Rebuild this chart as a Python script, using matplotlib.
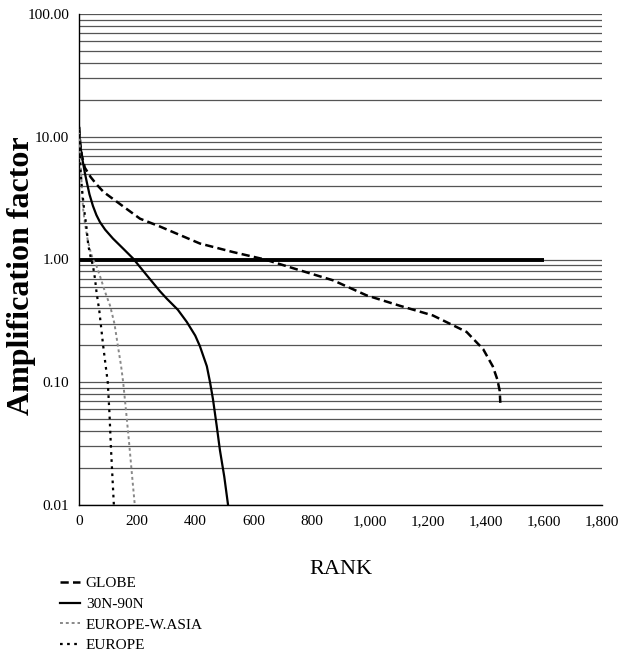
import matplotlib
matplotlib.use("Agg")
import matplotlib.pyplot as plt
from matplotlib.ticker import FixedLocator, FuncFormatter, NullLocator

plt.rcParams['font.family'] = ['Liberation Serif', 'DejaVu Serif']

# ---- data ----
globe_rank = [0, 5, 10, 20, 40, 60, 85, 150, 210, 280, 416, 530, 640, 760, 875, 990, 1104, 1218, 1276, 1334, 1391, 1424, 1440, 1448, 1450]
globe_val = [12, 8.5, 7, 5.6, 4.7, 4.1, 3.54, 2.73, 2.15, 1.85, 1.35, 1.15, 1.0, 0.817, 0.676, 0.51, 0.42, 0.35, 0.30, 0.257, 0.186, 0.135, 0.105, 0.085, 0.068]

n30_rank = [0, 3, 10, 20, 27, 36, 48, 60, 72, 90, 117, 150, 186, 234, 279, 302, 340, 371, 400, 416, 440, 451, 461, 474, 485, 500, 513]
n30_val = [12, 9, 6.9, 5.1, 4.25, 3.4, 2.73, 2.3, 2.02, 1.75, 1.48, 1.24, 1.02, 0.74, 0.55, 0.48, 0.39, 0.31, 0.24, 0.197, 0.135, 0.10, 0.073, 0.044, 0.028, 0.017, 0.01]

ewa_rank = [0, 3, 6, 10, 14, 20, 29, 38, 48, 60, 75, 89, 107, 122, 135, 145, 152, 162, 172, 182, 192]
ewa_val = [12, 8, 5.7, 3.8, 2.6, 2.0, 1.48, 1.2, 1.0, 0.89, 0.7, 0.55, 0.42, 0.3, 0.19, 0.135, 0.1, 0.058, 0.033, 0.018, 0.01]

eur_rank = [0, 2, 5, 10, 18, 25, 32, 40, 48, 55, 60, 70, 83, 92, 99, 105, 110, 115, 120]
eur_val = [12, 8, 5.5, 3.8, 2.5, 1.9, 1.3, 1.05, 0.89, 0.7, 0.55, 0.38, 0.2, 0.135, 0.1, 0.055, 0.029, 0.017, 0.01]

ref_rank = [0, 1600]
ref_val = [1.0, 1.0]

xticks = [0, 200, 400, 600, 800, 1000, 1200, 1400, 1600, 1800]
yticks = [0.01, 0.1, 1, 10, 100]
labels = ['GLOBE', '30N-90N', 'EUROPE-W.ASIA', 'EUROPE']

# ---- figure ----
fig = plt.figure(figsize=(6.19, 6.53), dpi=100)
ax = fig.add_axes([79/619, 1 - 505/653, (602-79)/619, (505-14)/653])
ax.set_yscale('log')
ax.set_xlim(0, 1800)
ax.set_ylim(0.01, 100)

# horizontal gridlines at every major/minor log position
grid_vals = []
for dec in [0.01, 0.1, 1, 10]:
    for m in range(1, 10):
        grid_vals.append(dec * m)
grid_vals.append(100)
for g in grid_vals:
    ax.axhline(g, color='#555555', lw=0.9, zorder=1)

ax.plot(ref_rank, ref_val, color='black', lw=2.8, solid_capstyle='butt', zorder=3)
l1, = ax.plot(globe_rank, globe_val, color='black', lw=1.8, dashes=(3.3, 1.7), zorder=4)
l2, = ax.plot(n30_rank, n30_val, color='black', lw=1.6, zorder=4)
l3, = ax.plot(ewa_rank, ewa_val, color='#888888', lw=1.4, dashes=(1.5, 1.5), zorder=4)
l4, = ax.plot(eur_rank, eur_val, color='black', lw=1.6, dashes=(1.2, 2.0), zorder=4)

ax.xaxis.set_major_locator(FixedLocator(xticks))
ax.xaxis.set_major_formatter(FuncFormatter(lambda v, p: f"{int(v):,}"))
ax.yaxis.set_major_locator(FixedLocator(yticks))
ax.yaxis.set_minor_locator(NullLocator())
ax.yaxis.set_major_formatter(FuncFormatter(lambda v, p: f"{v:.2f}"))
ax.tick_params(axis='both', length=0, labelsize=11, pad=7)

for s in ['top', 'right']:
    ax.spines[s].set_visible(False)
for s in ['left', 'bottom']:
    ax.spines[s].set_linewidth(1.0)
    ax.spines[s].set_color('black')

ax.set_xlabel('RANK', fontsize=16)
ax.xaxis.set_label_coords(0.5, -(560 - 505) / (505 - 14))
ax.set_ylabel('Amplification factor', fontsize=23, fontweight='bold')
ax.yaxis.set_label_coords(-(79 - 36) / (602 - 79), 1 - (276 - 14) / (505 - 14))

fig.legend([l1, l2, l3, l4], labels, loc='upper left',
           bbox_to_anchor=(46/619, 1 - 563/653), frameon=False,
           fontsize=11, handlelength=1.3, handletextpad=0.4, labelspacing=0.45)

fig.savefig('out.png', dpi=100)
